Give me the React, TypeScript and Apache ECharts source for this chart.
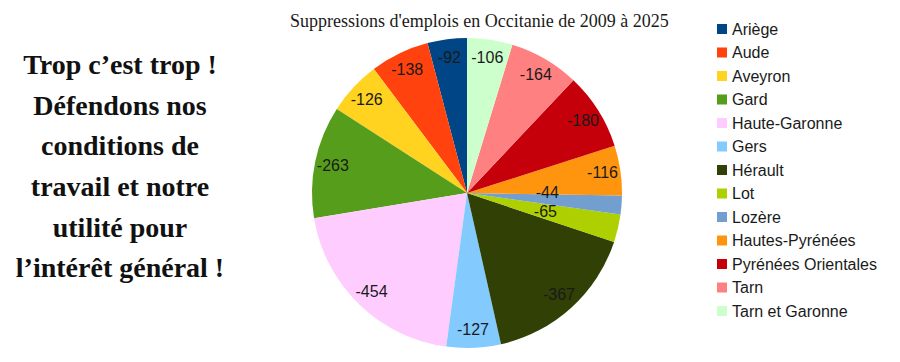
import React, { useEffect, useRef } from "react";
import * as echarts from "echarts";

const TITLE = "Suppressions d'emplois en Occitanie de 2009 à 2025";
const SLOGAN_LINES = [
  "Trop c’est trop !",
  "Défendons nos",
  "conditions de",
  "travail et notre",
  "utilité pour",
  "l’intérêt général !",
];
const DEPARTEMENTS = [
  "Ariège",
  "Aude",
  "Aveyron",
  "Gard",
  "Haute-Garonne",
  "Gers",
  "Hérault",
  "Lot",
  "Lozère",
  "Hautes-Pyrénées",
  "Pyrénées Orientales",
  "Tarn",
  "Tarn et Garonne",
];
const SUPPRESSIONS = [-92, -138, -126, -263, -454, -127, -367, -65, -44, -116, -180, -164, -106];
const COLORS = [
  "#004586",
  "#ff420e",
  "#ffd320",
  "#579d1c",
  "#ffccff",
  "#83caff",
  "#314004",
  "#aecf00",
  "#729fcf",
  "#ff950e",
  "#c5000b",
  "#ff8080",
  "#ccffcc",
];
// slices whose label sits closer to the centre
const INNER_LABELS = ["Lot", "Lozère"];

export default function App() {
  const ref = useRef<HTMLDivElement>(null);
  useEffect(() => {
    if (!ref.current) return;
    const chart = echarts.init(ref.current, null, { renderer: "svg" });
    const labelStyle = {
      color: "#1a1a1a",
      fontFamily: "Liberation Sans",
      fontSize: 16,
      overflow: "none",
      formatter: (p: any) => String(SUPPRESSIONS[p.dataIndex]),
    };
    const mainData = DEPARTEMENTS.map((name, i) => ({
      name,
      value: Math.abs(SUPPRESSIONS[i]),
      itemStyle: { color: COLORS[i] },
      label: {
        show: INNER_LABELS.includes(name),
        offset: name === "Lozère" ? [0, -7] : [0, 0],
      },
    }));
    const overlayData = DEPARTEMENTS.map((name, i) => ({
      name,
      value: Math.abs(SUPPRESSIONS[i]),
      label: { show: !INNER_LABELS.includes(name) },
    }));
    chart.setOption({
      animation: false,
      backgroundColor: "#ffffff",
      title: {
        text: TITLE,
        left: 285,
        top: 7,
        textStyle: {
          fontFamily: "Liberation Serif",
          fontWeight: "normal",
          fontSize: 18,
          color: "#1a1a1a",
        },
      },
      legend: {
        orient: "vertical",
        left: 712,
        top: 16,
        data: DEPARTEMENTS,
        icon: "rect",
        itemWidth: 10,
        itemHeight: 10,
        itemGap: 7.5,
        selectedMode: false,
        textStyle: {
          fontFamily: "Liberation Sans",
          fontSize: 16,
          lineHeight: 16,
          color: "#1a1a1a",
          padding: [0, 0, 0, 0],
        },
      },
      graphic: [
        {
          type: "text",
          x: 120,
          y: 44,
          style: {
            text: SLOGAN_LINES.join("\n"),
            textAlign: "center",
            textVerticalAlign: "top",
            fontFamily: "Liberation Serif",
            fontWeight: "bold",
            fontSize: 28,
            lineHeight: 40.7,
            fill: "#111111",
          },
        },
      ],
      series: [
        {
          type: "pie",
          center: [467, 193],
          radius: [0, 155],
          startAngle: 90,
          clockwise: false,
          silent: true,
          avoidLabelOverlap: false,
          labelLayout: { hideOverlap: false },
          label: { position: "inside", ...labelStyle },
          labelLine: { show: false },
          itemStyle: { borderWidth: 0 },
          data: mainData,
        },
        {
          type: "pie",
          center: [467, 193],
          radius: [113, 155],
          startAngle: 90,
          clockwise: false,
          silent: true,
          avoidLabelOverlap: false,
          labelLayout: { hideOverlap: false },
          label: { position: "inside", ...labelStyle },
          labelLine: { show: false },
          itemStyle: { color: "rgba(0,0,0,0)", borderWidth: 0 },
          data: overlayData,
        },
      ],
    });
    return () => chart.dispose();
  }, []);
  return (
    <div
      ref={ref}
      style={{ position: "fixed", left: 0, top: 0, width: 900, height: 362 }}
    />
  );
}
